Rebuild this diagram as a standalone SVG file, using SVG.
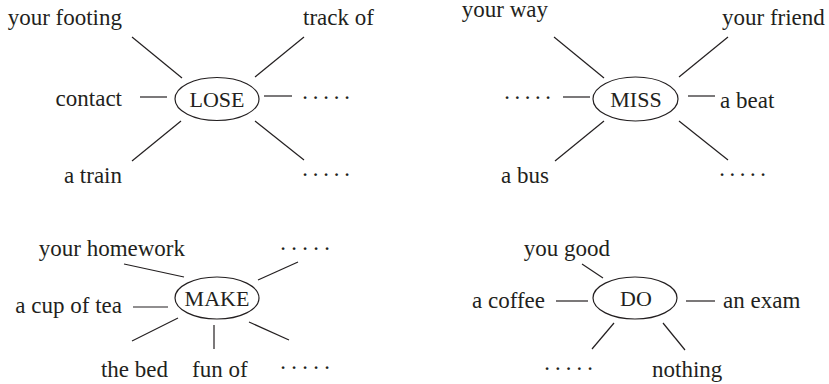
<svg xmlns="http://www.w3.org/2000/svg" width="829" height="384" viewBox="0 0 829 384" font-family="'Liberation Serif', 'DejaVu Serif', serif">
<style>
text{font-family:'Liberation Serif','DejaVu Serif',serif;font-size:23px;fill:#231f20}
.n{font-size:22px;text-anchor:middle}
.e{text-anchor:end}
.d{text-anchor:middle}
ellipse{fill:#fff;stroke:#231f20;stroke-width:1.2}
line{stroke:#231f20;stroke-width:1.2}
</style>
<rect width="829" height="384" fill="#fff"/>
<g id="connectors">
<line x1="132" y1="37" x2="182" y2="78"/>
<line x1="255" y1="77" x2="304" y2="37"/>
<line x1="140" y1="97" x2="167" y2="97"/>
<line x1="264" y1="96" x2="292" y2="96"/>
<line x1="181" y1="121" x2="132" y2="161"/>
<line x1="255" y1="121" x2="304" y2="160"/>
<line x1="554" y1="37" x2="604" y2="78"/>
<line x1="679" y1="77" x2="728" y2="37"/>
<line x1="563" y1="97" x2="590" y2="97"/>
<line x1="688" y1="96" x2="715" y2="96"/>
<line x1="604" y1="121" x2="555" y2="161"/>
<line x1="679" y1="121" x2="728" y2="160"/>
<line x1="124" y1="264" x2="184" y2="277"/>
<line x1="258" y1="280" x2="298" y2="262"/>
<line x1="133" y1="307" x2="168" y2="307"/>
<line x1="178" y1="318" x2="132" y2="341"/>
<line x1="214" y1="325" x2="214" y2="349"/>
<line x1="249" y1="322" x2="289" y2="340"/>
<line x1="582" y1="264" x2="603" y2="278"/>
<line x1="556" y1="301" x2="588" y2="301"/>
<line x1="686" y1="301" x2="715" y2="301"/>
<line x1="614" y1="323" x2="592" y2="349"/>
<line x1="663" y1="323" x2="685" y2="350"/>
</g>
<g id="lose">
<ellipse cx="217" cy="99" rx="42" ry="21.5"/>
<text class="n" x="217" y="107">LOSE</text>
</g>
<g id="lose-labels">
<text class="e" x="122" y="25">your footing</text>
<text x="303" y="25">track of</text>
<text class="e" x="122" y="106">contact</text>
<text class="e" x="122" y="183">a train</text>
<text class="d" x="305 315.5 326 336.5 347" y="104.5">·····</text>
<text class="d" x="305 315.5 326 336.5 347" y="181.5">·····</text>
</g>
<g id="miss">
<ellipse cx="635.5" cy="99" rx="42.5" ry="22"/>
<text class="n" x="636" y="107">MISS</text>
</g>
<g id="miss-labels">
<text class="e" x="548" y="17">your way</text>
<text x="722" y="25">your friend</text>
<text class="d" x="507 517.25 527.5 537.75 548" y="104.5">·····</text>
<text x="720" y="108">a beat</text>
<text class="e" x="549" y="183">a bus</text>
<text class="d" x="722 732.25 742.5 752.75 763" y="181.5">·····</text>
</g>
<g id="make">
<ellipse cx="217" cy="298" rx="42" ry="21"/>
<text class="n" x="217" y="306">MAKE</text>
</g>
<g id="make-labels">
<text class="e" x="185" y="256">your homework</text>
<text class="d" x="283 294 305 316 327" y="255.5">·····</text>
<text class="e" x="122" y="313">a cup of tea</text>
<text class="e" x="168" y="377">the bed</text>
<text x="192" y="377">fun of</text>
<text class="d" x="283 294 305 316 327" y="374.5">·····</text>
</g>
<g id="do">
<ellipse cx="635" cy="298" rx="42" ry="21"/>
<text class="n" x="636" y="306">DO</text>
</g>
<g id="do-labels">
<text class="e" x="610" y="256">you good</text>
<text class="e" x="545" y="308">a coffee</text>
<text x="723" y="308">an exam</text>
<text class="d" x="547 557.75 568.5 579.25 590" y="375.5">·····</text>
<text x="652" y="377">nothing</text>
</g>
</svg>
